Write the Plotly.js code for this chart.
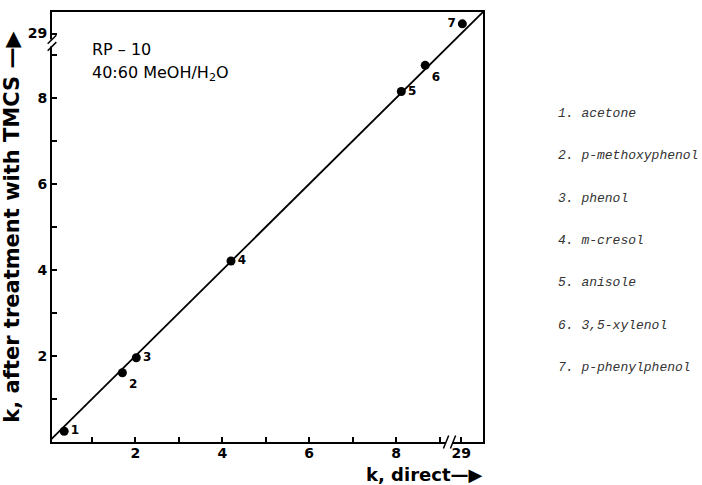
<!DOCTYPE html>
<html>
<head>
<meta charset="utf-8">
<script src="https://cdn.plot.ly/plotly-3.0.1.min.js"></script>
<style>html,body{margin:0;padding:0;background:#fff;}#chart{width:702px;height:485px;}</style>
</head>
<body>
<div id="chart"></div>
<script>
// ---- data ----
const pointIds    = ['1', '2', '3', '4', '5', '6', '7'];
const compounds   = ['acetone', 'p-methoxyphenol', 'phenol', 'm-cresol', 'anisole', '3,5-xylenol', 'p-phenylphenol'];
const kDirect     = [0.36, 1.70, 2.02, 4.20, 8.12, 8.67, 29.05];
const kTMCS       = [0.25, 1.61, 1.96, 4.21, 8.15, 8.76, 29.45];
const lineK       = [0, 30];
const majorTicks  = [2, 4, 6, 8, 29];
const majorLabels = ['2', '4', '6', '8', '29'];
const minorTicks  = [1, 3, 5, 7, 9];
const labelPos    = ['middle right', 'bottom right', 'middle right', 'middle right', 'middle right', 'bottom right', 'middle left'];

// broken axis: values above the break are compressed near the top/right edge
function brk(v) { return v > 20 ? 9.5 + (v - 29) * 0.5 : v; }

const FONT = 'DejaVu Sans, Arial, sans-serif';

const traces = [
  {
    x: lineK.map(brk), y: lineK.map(brk),
    mode: 'lines', line: {color: '#000', width: 1.8},
    hoverinfo: 'skip', showlegend: false
  },
  {
    x: kDirect.map(brk), y: kTMCS.map(brk),
    mode: 'markers+text',
    text: pointIds, textposition: labelPos,
    textfont: {family: FONT, size: 12, color: '#000', weight: 'bold'},
    marker: {color: '#000', size: 9},
    customdata: compounds,
    hovertemplate: '%{customdata}<extra></extra>',
    showlegend: false
  }
];

const axisCommon = {
  tickmode: 'array',
  tickvals: majorTicks.map(brk),
  ticktext: majorLabels,
  ticks: 'inside', ticklen: 5, tickwidth: 2, tickcolor: '#000',
  minor: {tickmode: 'array', tickvals: minorTicks.map(brk), ticks: 'inside', ticklen: 5, tickwidth: 2, tickcolor: '#000', showgrid: false},
  showline: true, linecolor: '#000', linewidth: 2, mirror: true,
  showgrid: false, zeroline: false,
  tickfont: {family: FONT, size: 14, color: '#000', weight: 'bold'},
  fixedrange: true
};

const annotations = [
  {xref: 'paper', yref: 'paper', x: 0.088, y: 0.912, xanchor: 'left', yanchor: 'middle',
   text: 'RP \u2013 10', showarrow: false, font: {family: FONT, size: 16, color: '#000'}},
  {xref: 'paper', yref: 'paper', x: 0.088, y: 0.856, xanchor: 'left', yanchor: 'middle',
   text: '40:60 MeOH/H<sub>2</sub>O', showarrow: false, font: {family: FONT, size: 16, color: '#000'}},
  {xref: 'paper', yref: 'paper', x: 1.0, y: -0.0765, xanchor: 'right', yanchor: 'middle',
   text: 'k, direct\u2014\u25B6', showarrow: false, borderpad: 0,
   font: {family: FONT, size: 18, color: '#000', weight: 'bold'}}
];
compounds.forEach((c, i) => {
  annotations.push({
    xref: 'paper', yref: 'paper', x: 1.17, y: 0.765 - i * 0.0988,
    xanchor: 'left', yanchor: 'middle', showarrow: false,
    text: pointIds[i] + '. ' + c,
    font: {family: 'Liberation Mono, DejaVu Sans Mono, monospace', size: 13, color: '#333', style: 'italic'}
  });
});

// axis-break marks
const shapes = [];
const xb = [9.15, 9.31], yb = [9.2, 9.36];
shapes.push({type: 'line', xref: 'x', yref: 'paper', x0: xb[0], x1: xb[1], y0: 0, y1: 0, line: {color: '#fff', width: 4}});
shapes.push({type: 'line', xref: 'paper', yref: 'y', x0: 0, x1: 0, y0: yb[0], y1: yb[1], line: {color: '#fff', width: 4}});
xb.forEach(v => shapes.push({type: 'line', xref: 'x', yref: 'paper', x0: v - 0.06, x1: v + 0.06, y0: -0.015, y1: 0.015, line: {color: '#000', width: 1.5}}));
yb.forEach(v => shapes.push({type: 'line', xref: 'paper', yref: 'y', x0: -0.01, x1: 0.01, y0: v - 0.1, y1: v + 0.1, line: {color: '#000', width: 1.5}}));

const layout = {
  width: 702, height: 485,
  margin: {l: 52, r: 219, t: 12, b: 43},
  paper_bgcolor: '#fff', plot_bgcolor: '#fff',
  xaxis: Object.assign({}, axisCommon, {range: [0.08, 10], ticklabelstandoff: -3}),
  yaxis: Object.assign({}, axisCommon, {range: [0, 10],
    title: {text: 'k, after treatment with TMCS \u2014\u25B6', standoff: 3,
            font: {family: FONT, size: 21, color: '#000', weight: 'bold'}}}),
  annotations: annotations,
  shapes: shapes,
  showlegend: false
};

Plotly.newPlot('chart', traces, layout, {displayModeBar: false, staticPlot: true});
</script>
</body>
</html>
